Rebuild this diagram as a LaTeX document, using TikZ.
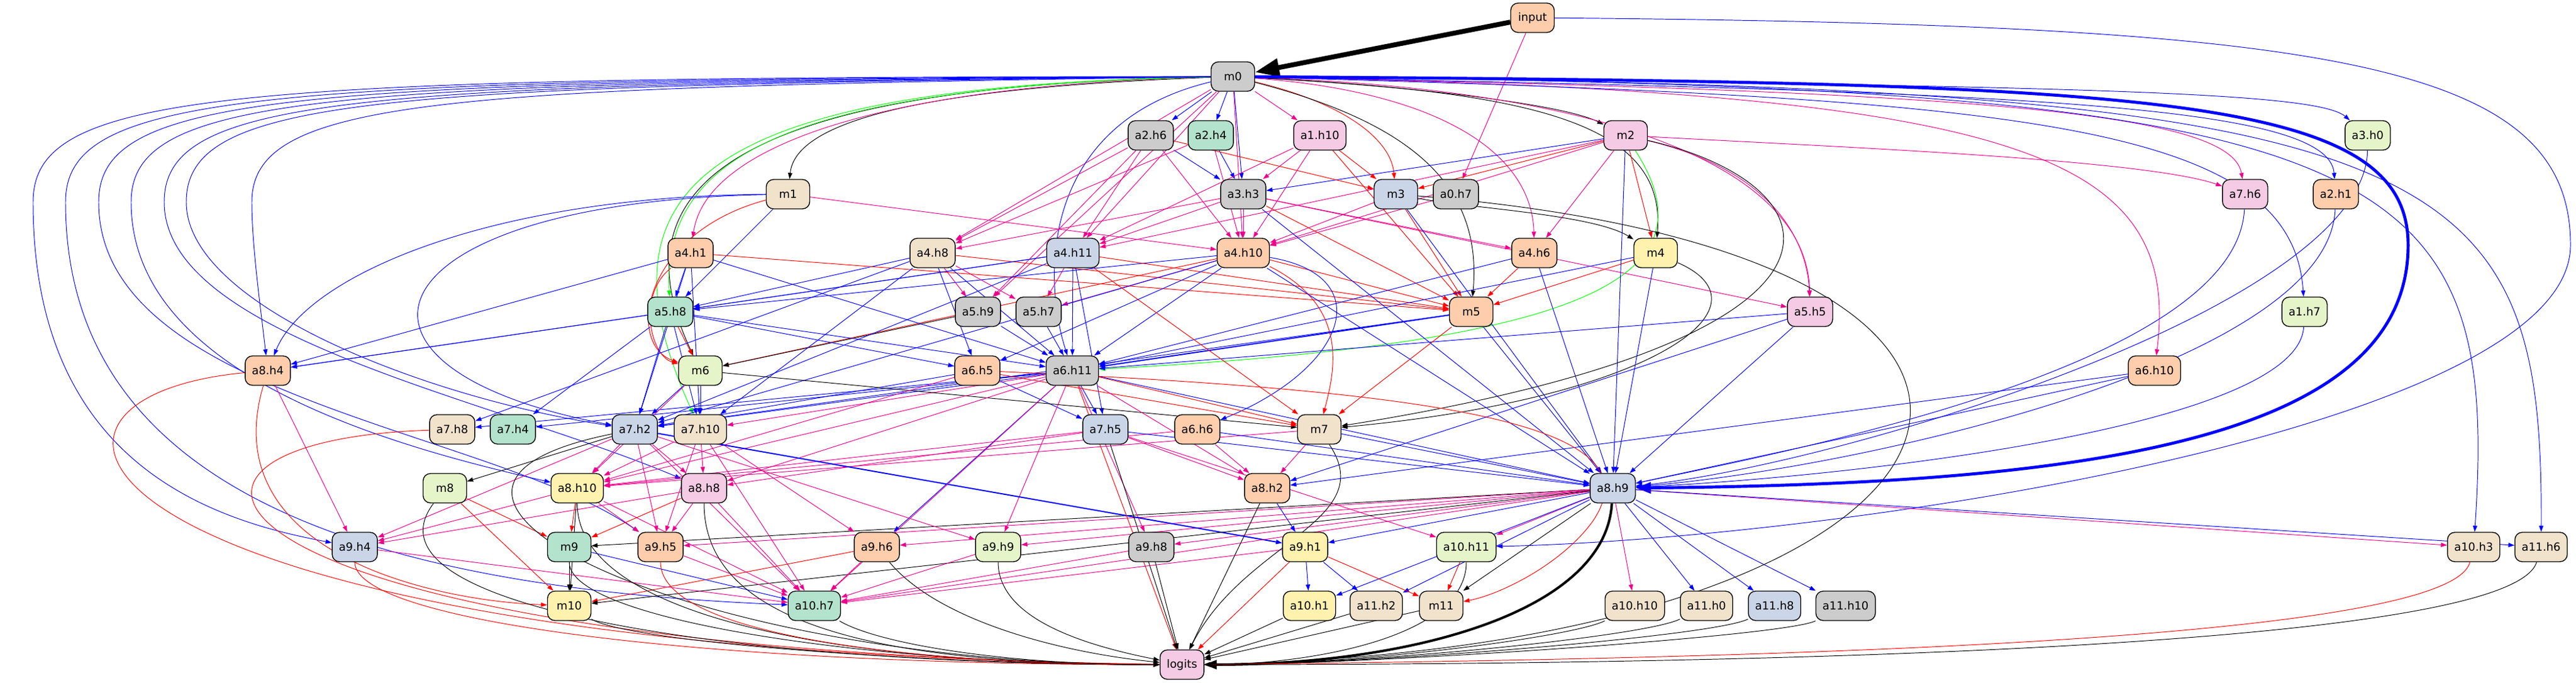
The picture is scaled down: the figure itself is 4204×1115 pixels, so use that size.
\documentclass[tikz,border=0pt]{standalone}
\usepackage{fontspec}
\setmainfont{DejaVu Sans}
\usetikzlibrary{arrows.meta, backgrounds}

\definecolor{cgray}{HTML}{CCCCCC}
\definecolor{cgreen}{HTML}{B3E2CD}
\definecolor{corange}{HTML}{FDCDAC}
\definecolor{cblue}{HTML}{CBD5E8}
\definecolor{cpink}{HTML}{F4CAE4}
\definecolor{clime}{HTML}{E6F5C9}
\definecolor{cyellow}{HTML}{FFF2AE}
\definecolor{cbeige}{HTML}{F1E2CC}

\tikzset{
    unit/.style={
        rectangle, rounded corners=0.24cm, minimum width=1.42cm, minimum height=0.96cm, inner xsep=0.22cm, text centered, draw=black, line width=0.8pt, font=\fontsize{10.4}{12}\selectfont
    },
    arrow/.style={
        line width=0.55pt, -{Triangle[length=0.2cm, width=0.14cm]}
    },
    bluearrow/.style={arrow, draw=blue},
    pinkarrow/.style={arrow, draw=magenta},
    redarrow/.style={arrow, draw=red},
    blackarrow/.style={arrow, draw=black},
    greenarrow/.style={arrow, draw=green},
    heavy/.style={line width=#1, -{Triangle[length=5*#1, width=3.6*#1]}}
}

\begin{document}
\begin{tikzpicture}[x=0.02cm, y=-0.02cm]

    \useasboundingbox (0,0) rectangle (4204,1115);

    % Input and layers 0-3
    \node[unit, fill=corange] (input) at (2501,29) {input};
    \node[unit, fill=cgray] (m0) at (2012,125) {m0};
    \node[unit, fill=cgray] (a2h6) at (1878,221) {a2.h6};
    \node[unit, fill=cgreen] (a2h4) at (1976,221) {a2.h4};
    \node[unit, fill=cpink] (a1h10) at (2154,221) {a1.h10};
    \node[unit, fill=cpink] (m2) at (2653,221) {m2};
    \node[unit, fill=clime] (a3h0) at (3864,221) {a3.h0};
    \node[unit, fill=cbeige] (m1) at (1286,317) {m1};
    \node[unit, fill=cgray] (a3h3) at (2029,317) {a3.h3};
    \node[unit, fill=cblue] (m3) at (2278,317) {m3};
    \node[unit, fill=cgray] (a0h7) at (2376,317) {a0.h7};
    \node[unit, fill=cpink] (a7h6) at (3664,317) {a7.h6};
    \node[unit, fill=corange] (a2h1) at (3812,317) {a2.h1};

    % Layers 4-5
    \node[unit, fill=corange] (a4h1) at (1127,413) {a4.h1};
    \node[unit, fill=cbeige] (a4h8) at (1522,413) {a4.h8};
    \node[unit, fill=cblue] (a4h11) at (1751,413) {a4.h11};
    \node[unit, fill=corange] (a4h10) at (2029,413) {a4.h10};
    \node[unit, fill=corange] (a4h6) at (2504,413) {a4.h6};
    \node[unit, fill=cyellow] (m4) at (2702,413) {m4};
    \node[unit, fill=cgreen] (a5h8) at (1094,509) {a5.h8};
    \node[unit, fill=cgray] (a5h9) at (1596,509) {a5.h9};
    \node[unit, fill=cgray] (a5h7) at (1695,509) {a5.h7};
    \node[unit, fill=corange] (m5) at (2401,509) {m5};
    \node[unit, fill=cpink] (a5h5) at (2954,509) {a5.h5};
    \node[unit, fill=clime] (a1h7) at (3761,509) {a1.h7};

    % Layers 6-7
    \node[unit, fill=corange] (a8h4) at (437,605) {a8.h4};
    \node[unit, fill=clime] (m6) at (1143,605) {m6};
    \node[unit, fill=corange] (a6h5) at (1595,605) {a6.h5};
    \node[unit, fill=cgray] (a6h11) at (1750,605) {a6.h11};
    \node[unit, fill=corange] (a6h10) at (3516,605) {a6.h10};
    \node[unit, fill=cbeige] (a7h8) at (738,701) {a7.h8};
    \node[unit, fill=cgreen] (a7h4) at (837,701) {a7.h4};
    \node[unit, fill=cblue] (a7h2) at (1036,701) {a7.h2};
    \node[unit, fill=cbeige] (a7h10) at (1143,701) {a7.h10};
    \node[unit, fill=cblue] (a7h5) at (1804,701) {a7.h5};
    \node[unit, fill=corange] (a6h6) at (1954,701) {a6.h6};
    \node[unit, fill=cbeige] (m7) at (2153,701) {m7};

    % Layers 8-9
    \node[unit, fill=clime] (m8) at (726,797) {m8};
    \node[unit, fill=cyellow] (a8h10) at (942,797) {a8.h10};
    \node[unit, fill=cpink] (a8h8) at (1149,797) {a8.h8};
    \node[unit, fill=corange] (a8h2) at (2068,797) {a8.h2};
    \node[unit, fill=cblue] (a8h9) at (2632,797) {a8.h9};
    \node[unit, fill=cblue] (a9h4) at (579,893) {a9.h4};
    \node[unit, fill=cgreen] (m9) at (929,893) {m9};
    \node[unit, fill=corange] (a9h5) at (1078,893) {a9.h5};
    \node[unit, fill=corange] (a9h6) at (1431,893) {a9.h6};
    \node[unit, fill=clime] (a9h9) at (1629,893) {a9.h9};
    \node[unit, fill=cgray] (a9h8) at (1879,893) {a9.h8};
    \node[unit, fill=cyellow] (a9h1) at (2130,893) {a9.h1};
    \node[unit, fill=clime] (a10h11) at (2393,893) {a10.h11};
    \node[unit, fill=cbeige] (a10h3) at (4037,893) {a10.h3};
    \node[unit, fill=cbeige] (a11h6) at (4147,893) {a11.h6};

    % Layers 10-11 and output
    \node[unit, fill=cyellow] (m10) at (929,989) {m10};
    \node[unit, fill=cgreen] (a10h7) at (1329,989) {a10.h7};
    \node[unit, fill=cyellow] (a10h1) at (2137,989) {a10.h1};
    \node[unit, fill=cbeige] (a11h2) at (2246,989) {a11.h2};
    \node[unit, fill=cbeige] (m11) at (2352,989) {m11};
    \node[unit, fill=cbeige] (a10h10) at (2668,989) {a10.h10};
    \node[unit, fill=cbeige] (a11h0) at (2785,989) {a11.h0};
    \node[unit, fill=cblue] (a11h8) at (2896,989) {a11.h8};
    \node[unit, fill=cgray] (a11h10) at (3012,989) {a11.h10};
    \node[unit, fill=cpink] (logits) at (1929,1085) {logits};

    \begin{scope}[on background layer]
    % From input
    \draw[heavy=4.5pt] (input) -- (m0);
    \draw[pinkarrow] (input) -- (a0h7);
    \draw[bluearrow] (input) .. controls (3800,40) and (4195,100) .. (4195,400) .. controls (4195,700) and (3000,880) .. (a10h11);

    % From m0
    \draw[bluearrow] (m0) -- (a2h6);
    \draw[bluearrow] (m0) -- (a2h4);
    \draw[bluearrow] (m0) -- (a3h3);
    \draw[pinkarrow] (m0) -- (a1h10);
    \draw[redarrow] (m0) .. controls (2200,170) and (2270,230) .. (m3);
    \draw[blackarrow] (m0) .. controls (2300,140) and (2550,170) .. (m2);
    \draw[blackarrow] (m0) .. controls (2300,200) and (2420,300) .. (m5);
    \draw[blackarrow] (m0) .. controls (2500,150) and (2720,200) .. (m4);
    \draw[blackarrow] (m0) .. controls (1600,140) and (1300,180) .. (m1);
    \draw[blackarrow] (m0) .. controls (1200,140) and (1000,300) .. (m6);
    \draw[pinkarrow] (m0) .. controls (1400,140) and (1150,250) .. (a4h1);
    \draw[pinkarrow] (m0) -- (a4h8);
    \draw[pinkarrow] (m0) -- (a4h11);
    \draw[pinkarrow] (m0) -- (a4h10);
    \draw[pinkarrow] (m0) .. controls (2350,150) and (2500,250) .. (a4h6);
    \draw[pinkarrow] (m0) -- (a5h9);
    \draw[pinkarrow] (m0) .. controls (2700,150) and (2950,300) .. (a5h5);
    \draw[pinkarrow] (m0) .. controls (3200,150) and (3640,180) .. (a7h6);
    \draw[pinkarrow] (m0) .. controls (3300,150) and (3560,250) .. (a6h10);
    \draw[greenarrow] (m0) .. controls (1300,140) and (1080,250) .. (a5h8);
    \draw[greenarrow] (m0) .. controls (1150,140) and (960,300) .. (a7h10);
    \draw[bluearrow] (m0) .. controls (1700,200) and (1700,450) .. (a6h11);
    \draw[bluearrow] (m0) .. controls (3400,140) and (3780,150) .. (a3h0);
    \draw[bluearrow] (m0) .. controls (3300,150) and (3800,170) .. (a2h1);
    \draw[bluearrow] (m0) .. controls (3300,160) and (3740,200) .. (a1h7);
    \draw[bluearrow] (m0) .. controls (3900,140) and (4080,250) .. (a10h3);
    \draw[bluearrow] (m0) .. controls (4000,140) and (4150,250) .. (a11h6);
    \draw[heavy=2.8pt, draw=blue] (m0) .. controls (3500,135) and (3930,150) .. (3930,400) .. controls (3930,720) and (3400,790) .. (a8h9);
    \draw[bluearrow] (m0) .. controls (354,125) and (54,150) .. (54,330) .. controls (54,760) and (350,850) .. (a9h4);
    \draw[bluearrow] (m0) .. controls (407,128) and (107,152) .. (107,330) .. controls (107,800) and (600,960) .. (a10h7);
    \draw[bluearrow] (m0) .. controls (461,131) and (161,154) .. (161,330) .. controls (161,650) and (800,700) .. (a9h5);
    \draw[bluearrow] (m0) .. controls (514,134) and (214,156) .. (214,330) .. controls (214,600) and (600,720) .. (a8h10);
    \draw[bluearrow] (m0) .. controls (568,137) and (268,158) .. (268,330) .. controls (268,550) and (800,650) .. (a8h8);
    \draw[bluearrow] (m0) .. controls (604,140) and (304,160) .. (304,330) .. controls (304,500) and (700,650) .. (a7h2);
    \draw[bluearrow] (m0) .. controls (711,143) and (411,162) .. (411,330) .. controls (411,400) and (425,500) .. (a8h4);

    % Layers 1-3 into layer 3-4
    \draw[bluearrow] (a2h6) -- (a3h3);
    \draw[bluearrow] (a2h4) -- (a3h3);
    \draw[pinkarrow] (a1h10) -- (a3h3);
    \draw[bluearrow] (m2) -- (a3h3);
    \draw[redarrow] (a1h10) -- (m3);
    \draw[redarrow] (a2h6) -- (m3);
    \draw[redarrow] (m2) -- (m3);
    \draw[pinkarrow] (m2) .. controls (3000,240) and (3500,260) .. (a7h6);
    \draw[pinkarrow] (a2h6) -- (a4h8);
    \draw[pinkarrow] (a2h4) -- (a4h8);
    \draw[pinkarrow] (a3h3) -- (a4h8);
    \draw[pinkarrow] (a2h6) -- (a4h11);
    \draw[pinkarrow] (a1h10) -- (a4h11);
    \draw[pinkarrow] (a3h3) -- (a4h11);
    \draw[pinkarrow] (m2) -- (a4h11);
    \draw[pinkarrow] (a2h6) -- (a4h10);
    \draw[pinkarrow] (a2h4) -- (a4h10);
    \draw[pinkarrow] (a3h3) -- (a4h10);
    \draw[pinkarrow] (a1h10) -- (a4h10);
    \draw[pinkarrow] (m3) -- (a4h10);
    \draw[pinkarrow] (m2) -- (a4h10);
    \draw[pinkarrow] (m1) -- (a4h10);
    \draw[pinkarrow] (a0h7) -- (a4h10);
    \draw[pinkarrow] (m2) -- (a4h6);
    \draw[pinkarrow] (a3h3) -- (a4h6);
    \draw[redarrow] (m2) -- (m4);
    \draw[blackarrow] (m3) .. controls (2400,340) and (2600,350) .. (m4);

    % Into layer 5
    \draw[bluearrow] (a4h1) -- (a5h8);
    \draw[bluearrow] (m1) -- (a5h8);
    \draw[bluearrow] (a4h8) -- (a5h8);
    \draw[bluearrow] (a4h11) -- (a5h8);
    \draw[bluearrow] (a4h10) -- (a5h8);
    \draw[pinkarrow] (a2h6) -- (a5h9);
    \draw[pinkarrow] (a4h8) -- (a5h9);
    \draw[pinkarrow] (a4h8) -- (a5h7);
    \draw[pinkarrow] (a4h11) -- (a5h7);
    \draw[pinkarrow] (a4h10) -- (a5h7);
    \draw[pinkarrow] (m2) .. controls (2900,280) and (2950,400) .. (a5h5);
    \draw[pinkarrow] (a3h3) -- (a5h5);
    \draw[redarrow] (a3h3) -- (m5);
    \draw[redarrow] (m3) -- (m5);
    \draw[redarrow] (a1h10) -- (m5);
    \draw[redarrow] (a4h6) -- (m5);
    \draw[redarrow] (m4) -- (m5);
    \draw[redarrow] (a4h10) -- (m5);
    \draw[redarrow] (a4h8) -- (m5);
    \draw[redarrow] (a4h11) -- (m5);
    \draw[redarrow] (a4h1) -- (m5);

    % Into layer 6
    \draw[bluearrow] (m1) .. controls (800,320) and (500,450) .. (a8h4);
    \draw[bluearrow] (a5h8) -- (a8h4);
    \draw[bluearrow] (a4h1) -- (a8h4);
    \draw[bluearrow] (a4h11) -- (a8h4);
    \draw[redarrow] (a4h1) .. controls (1040,480) and (1060,580) .. (m6);
    \draw[redarrow] (a5h8) -- (m6);
    \draw[redarrow] (a4h10) -- (m6);
    \draw[blackarrow] (a5h9) -- (m6);
    \draw[redarrow] (m1) .. controls (1050,380) and (1020,560) .. (m6);
    \draw[bluearrow] (a5h8) -- (a6h5);
    \draw[bluearrow] (a4h10) -- (a6h5);
    \draw[bluearrow] (a4h8) -- (a6h5);
    \draw[bluearrow] (a4h1) -- (a6h11);
    \draw[bluearrow] (a5h8) -- (a6h11);
    \draw[bluearrow] (a5h9) -- (a6h11);
    \draw[bluearrow] (a5h7) -- (a6h11);
    \draw[bluearrow] (a4h11) -- (a6h11);
    \draw[greenarrow] (m2) .. controls (2800,450) and (2600,560) .. (a6h11);
    \draw[bluearrow] (a4h10) -- (a6h11);
    \draw[bluearrow, line width=1.1pt] (m5) -- (a6h11);
    \draw[bluearrow] (a5h5) -- (a6h11);
    \draw[bluearrow] (a4h6) -- (a6h11);
    \draw[bluearrow] (m4) -- (a6h11);
    \draw[bluearrow] (a4h8) -- (a6h11);
    \draw[bluearrow] (a4h10) .. controls (2250,450) and (2200,600) .. (a6h6);

    % Into layer 7
    \draw[bluearrow] (a4h8) -- (a7h8);
    \draw[bluearrow] (a6h11) -- (a7h8);
    \draw[bluearrow] (a5h8) -- (a7h4);
    \draw[bluearrow] (a6h11) -- (a7h4);
    \draw[bluearrow] (a4h1) -- (a7h2);
    \draw[bluearrow] (a5h8) -- (a7h2);
    \draw[bluearrow] (m6) -- (a7h2);
    \draw[bluearrow] (a6h11) -- (a7h2);
    \draw[bluearrow] (a6h5) -- (a7h2);
    \draw[bluearrow] (a4h10) -- (a7h2);
    \draw[bluearrow] (m5) -- (a7h2);
    \draw[bluearrow] (a4h11) -- (a7h2);
    \draw[bluearrow] (m1) .. controls (600,330) and (500,600) .. (a7h2);
    \draw[bluearrow] (m6) -- (a7h10);
    \draw[bluearrow] (a5h8) -- (a7h10);
    \draw[bluearrow] (a4h1) -- (a7h10);
    \draw[pinkarrow] (a6h11) -- (a7h10);
    \draw[bluearrow] (a4h8) -- (a7h10);
    \draw[bluearrow] (a6h5) -- (a7h5);
    \draw[bluearrow] (a6h11) -- (a7h5);
    \draw[bluearrow] (a4h11) -- (a7h5);
    \draw[blackarrow] (m6) -- (m7);
    \draw[redarrow] (m5) -- (m7);
    \draw[redarrow] (a4h10) .. controls (2200,500) and (2180,600) .. (m7);
    \draw[redarrow] (a4h11) -- (m7);
    \draw[redarrow] (a6h11) -- (m7);
    \draw[redarrow] (a6h5) -- (m7);
    \draw[blackarrow] (m2) .. controls (3000,300) and (3100,550) .. (m7);
    \draw[blackarrow] (m4) .. controls (2900,500) and (2700,650) .. (m7);

    % Into layer 8
    \draw[pinkarrow] (a7h2) -- (a8h10);
    \draw[pinkarrow] (a7h10) -- (a8h10);
    \draw[pinkarrow] (m6) -- (a8h10);
    \draw[pinkarrow] (a6h11) -- (a8h10);
    \draw[pinkarrow] (a6h5) -- (a8h10);
    \draw[pinkarrow] (a7h5) -- (a8h10);
    \draw[pinkarrow] (a6h6) -- (a8h10);
    \draw[pinkarrow] (m7) -- (a8h10);
    \draw[pinkarrow] (a7h2) -- (a8h8);
    \draw[pinkarrow] (a7h10) -- (a8h8);
    \draw[pinkarrow] (a6h11) -- (a8h8);
    \draw[pinkarrow] (a7h5) -- (a8h8);
    \draw[pinkarrow] (a7h5) -- (a8h2);
    \draw[pinkarrow] (a6h11) -- (a8h2);
    \draw[pinkarrow] (m7) -- (a8h2);
    \draw[pinkarrow] (a6h6) -- (a8h2);
    \draw[bluearrow] (a5h5) -- (a8h2);
    \draw[bluearrow] (a6h10) -- (a8h2);
    \draw[bluearrow] (a3h0) .. controls (3860,500) and (3000,760) .. (a8h9);
    \draw[bluearrow] (a2h1) .. controls (3800,600) and (3000,770) .. (a8h9);
    \draw[bluearrow] (a7h6) .. controls (3650,600) and (2900,740) .. (a8h9);
    \draw[bluearrow] (a1h7) .. controls (3750,700) and (3000,780) .. (a8h9);
    \draw[bluearrow] (a6h10) -- (a8h9);
    \draw[bluearrow] (a5h5) -- (a8h9);
    \draw[bluearrow] (m4) -- (a8h9);
    \draw[bluearrow] (a4h6) -- (a8h9);
    \draw[bluearrow] (m5) -- (a8h9);
    \draw[bluearrow] (a6h11) -- (a8h9);
    \draw[bluearrow] (a7h5) -- (a8h9);
    \draw[bluearrow] (m7) -- (a8h9);
    \draw[bluearrow] (a4h10) -- (a8h9);
    \draw[bluearrow] (a6h6) -- (a8h9);
    \draw[bluearrow] (m2) -- (a8h9);
    \draw[bluearrow] (a3h3) -- (a8h9);
    \draw[bluearrow] (m3) -- (a8h9);
    \draw[blackarrow] (a7h2) -- (m8);

    % Into layer 9
    \draw[pinkarrow] (a8h10) -- (a9h4);
    \draw[pinkarrow] (a8h8) -- (a9h4);
    \draw[pinkarrow] (a8h4) -- (a9h4);
    \draw[pinkarrow] (a7h2) -- (a9h4);
    \draw[redarrow] (a8h10) -- (m9);
    \draw[redarrow] (m8) -- (m9);
    \draw[redarrow] (a8h8) -- (m9);
    \draw[blackarrow] (a8h9) -- (m9);
    \draw[pinkarrow] (a8h10) -- (a9h5);
    \draw[pinkarrow] (a7h2) -- (a9h5);
    \draw[pinkarrow] (a7h10) -- (a9h5);
    \draw[pinkarrow] (a8h8) -- (a9h5);
    \draw[pinkarrow] (a8h9) -- (a9h5);
    \draw[bluearrow] (a6h11) -- (a9h6);
    \draw[pinkarrow] (a8h9) -- (a9h6);
    \draw[pinkarrow] (a7h10) -- (a9h6);
    \draw[pinkarrow] (a8h9) -- (a9h9);
    \draw[pinkarrow] (a7h2) -- (a9h9);
    \draw[pinkarrow] (a6h11) -- (a9h9);
    \draw[pinkarrow] (a6h11) -- (a9h8);
    \draw[pinkarrow] (a8h9) -- (a9h8);
    \draw[bluearrow] (a8h2) -- (a9h1);
    \draw[bluearrow] (a8h9) -- (a9h1);
    \draw[bluearrow, line width=1.1pt] (a7h2) -- (a9h1);
    \draw[pinkarrow] (a8h9) -- (a10h11);
    \draw[pinkarrow] (a7h5) -- (a10h11);
    \draw[pinkarrow] (a8h9) -- (a10h3);
    \draw[bluearrow] (a8h9) -- (a11h6);

    % Into layers 10-11
    \draw[blackarrow] (m9) -- (m10);
    \draw[blackarrow] (a8h10) -- (m10);
    \draw[redarrow] (m8) -- (m10);
    \draw[redarrow] (a8h4) .. controls (350,900) and (700,980) .. (m10);
    \draw[redarrow] (a9h6) -- (m10);
    \draw[blackarrow] (a8h9) -- (m10);
    \draw[pinkarrow] (a9h4) -- (a10h7);
    \draw[pinkarrow] (a9h5) -- (a10h7);
    \draw[pinkarrow] (a8h10) -- (a10h7);
    \draw[pinkarrow] (a8h8) -- (a10h7);
    \draw[pinkarrow] (a7h2) -- (a10h7);
    \draw[pinkarrow] (a7h10) -- (a10h7);
    \draw[pinkarrow] (a9h6) -- (a10h7);
    \draw[pinkarrow] (a9h9) -- (a10h7);
    \draw[pinkarrow] (a9h8) -- (a10h7);
    \draw[pinkarrow] (a9h1) -- (a10h7);
    \draw[pinkarrow] (a8h9) -- (a10h7);
    \draw[pinkarrow] (a6h11) -- (a10h7);
    \draw[bluearrow] (m9) -- (a10h7);
    \draw[bluearrow] (a9h1) -- (a10h1);
    \draw[bluearrow] (a8h9) -- (a10h1);
    \draw[bluearrow] (a9h1) -- (a11h2);
    \draw[bluearrow] (a8h9) -- (a11h2);
    \draw[redarrow] (a9h1) -- (m11);
    \draw[redarrow] (a10h11) -- (m11);
    \draw[blackarrow] (a8h9) -- (m11);
    \draw[redarrow] (a6h5) .. controls (2400,640) and (2700,700) .. (2600,850) .. controls (2550,920) and (2450,970) .. (m11);
    \draw[pinkarrow] (a8h9) -- (a10h10);
    \draw[bluearrow] (a8h9) -- (a11h0);
    \draw[bluearrow] (a8h9) -- (a11h8);
    \draw[bluearrow] (a8h9) -- (a11h10);

    % Into logits
    \draw[heavy=2.3pt] (a8h9) .. controls (2620,1000) and (2300,1085) .. (logits);
    \draw[redarrow] (a8h4) .. controls (-50,650) and (100,1060) .. (logits);
    \draw[redarrow] (a7h8) .. controls (150,720) and (300,1060) .. (logits);
    \draw[redarrow] (a9h4) .. controls +(0,120) and +(-800,0) .. (logits);
    \draw[blackarrow] (m8) .. controls +(-150,200) and +(-700,0) .. (logits);
    \draw[blackarrow] (a7h2) .. controls +(-500,100) and +(-800,0) .. (logits);
    \draw[blackarrow] (a8h10) .. controls +(0,200) and +(-600,0) .. (logits);
    \draw[blackarrow] (m9) .. controls +(0,120) and +(-500,0) .. (logits);
    \draw[blackarrow] (m10) .. controls +(100,60) and +(-400,0) .. (logits);
    \draw[blackarrow] (a8h8) .. controls +(0,220) and +(-500,0) .. (logits);
    \draw[redarrow] (a9h5) .. controls +(0,150) and +(-400,0) .. (logits);
    \draw[blackarrow] (a10h7) .. controls +(100,60) and +(-300,0) .. (logits);
    \draw[blackarrow] (a9h6) .. controls +(100,120) and +(-200,-20) .. (logits);
    \draw[blackarrow] (a9h9) .. controls +(0,120) and +(-150,-30) .. (logits);
    \draw[redarrow] (a6h11) -- (logits);
    \draw[blackarrow] (a7h5) -- (logits);
    \draw[blackarrow] (a9h8) -- (logits);
    \draw[blackarrow] (m7) .. controls +(100,150) and +(100,-200) .. (logits);
    \draw[blackarrow] (a8h2) -- (logits);
    \draw[redarrow] (a9h1) -- (logits);
    \draw[blackarrow] (a10h1) -- (logits);
    \draw[blackarrow] (a11h2) -- (logits);
    \draw[blackarrow] (m11) -- (logits);
    \draw[blackarrow] (a10h11) .. controls +(0,150) and +(200,0) .. (logits);
    \draw[blackarrow] (a10h10) .. controls +(-100,50) and +(300,0) .. (logits);
    \draw[blackarrow] (a11h0) .. controls +(-100,50) and +(300,0) .. (logits);
    \draw[blackarrow] (a11h8) .. controls +(-100,50) and +(300,0) .. (logits);
    \draw[blackarrow] (a11h10) .. controls +(-100,50) and +(300,0) .. (logits);
    \draw[redarrow] (a10h3) .. controls (4000,1040) and (3000,1075) .. (logits);
    \draw[blackarrow] (a11h6) .. controls (4100,1050) and (3000,1085) .. (logits);
    \draw[blackarrow] (m3) .. controls (3550,420) and (3300,1060) .. (logits);
    \end{scope}

\end{tikzpicture}
\end{document}
